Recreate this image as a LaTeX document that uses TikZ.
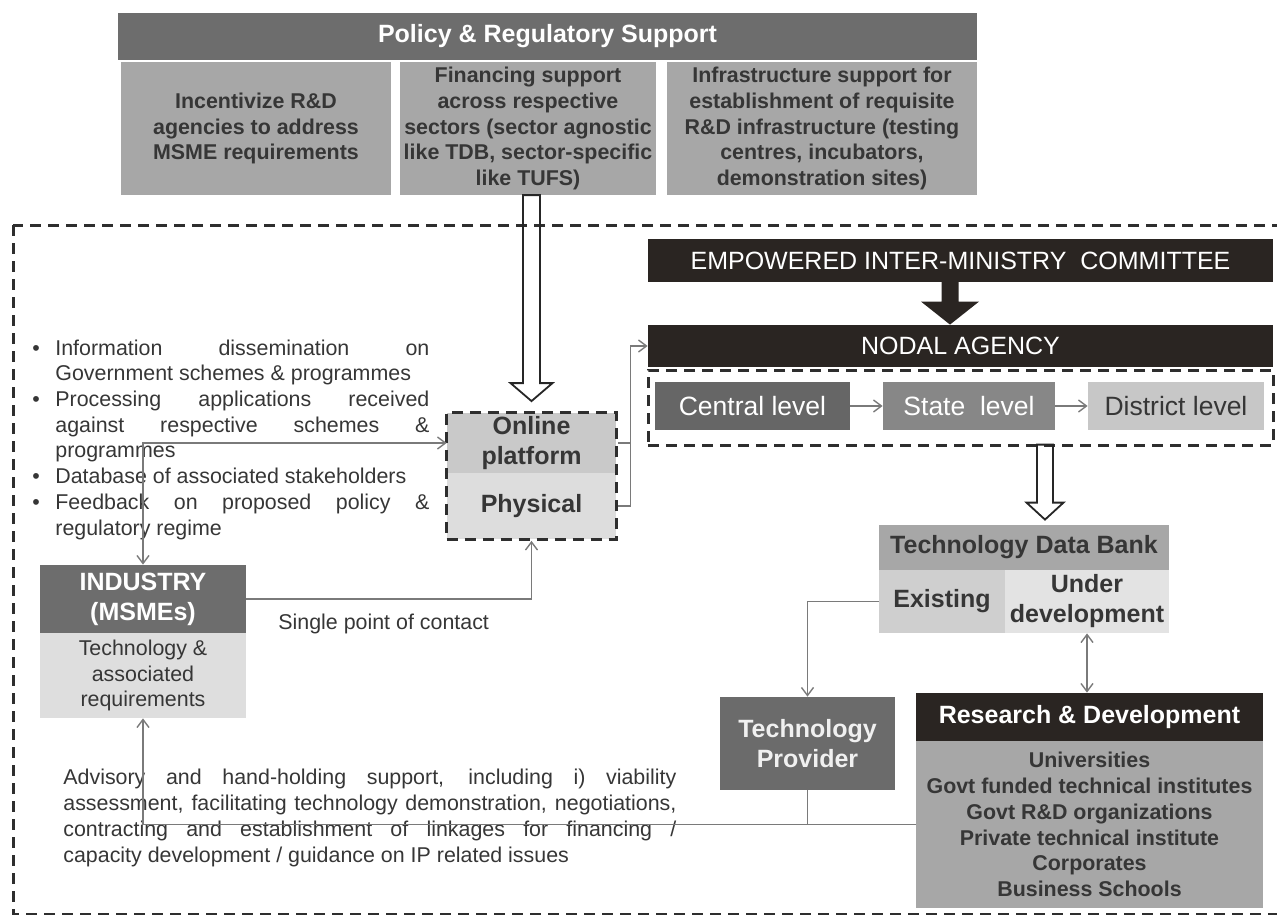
\documentclass[tikz,border=0pt]{standalone}
\usepackage{fontspec}
\setmainfont{Liberation Sans}
\usetikzlibrary{arrows.meta,calc,fit,backgrounds}

\definecolor{barblack}{HTML}{2A2522}
\definecolor{bardark}{HTML}{6D6D6D}
\definecolor{boxgrey}{HTML}{A7A7A7}
\definecolor{paleone}{HTML}{C9C9C9}
\definecolor{paletwo}{HTML}{DDDDDD}
\definecolor{inkgrey}{HTML}{363636}
\definecolor{wiregrey}{HTML}{7A7A7A}

\newcommand{\fhead}{\fontsize{25}{30}\selectfont}
\newcommand{\fbody}{\fontsize{21.4}{25.7}\selectfont}
\newcommand{\flevel}{\fontsize{26.5}{30}\selectfont}
\newcommand{\bitem}{\par\hangindent=23pt\hangafter=1\noindent\makebox[23pt][l]{\textbullet}}

\begin{document}
\begin{tikzpicture}[x=1pt,y=-1pt,thick]
    % `bar' is used for the black and dark grey title bars.
    % `support' for the grey policy boxes and the R&D list.
    % `cell' for the lighter boxes, `plain' for loose text.
    % `link' for the thin grey connectors, `frame' for dashed outlines.
    \tikzstyle{bar} = [fill=barblack,text=white,font=\fhead,inner sep=0pt,align=center]
    \tikzstyle{support} = [fill=boxgrey,text=inkgrey,font=\fbody\bfseries,inner sep=0pt,align=center,minimum height=133pt]
    \tikzstyle{cell} = [text=inkgrey,font=\fhead\bfseries,inner sep=0pt,align=center]
    \tikzstyle{plain} = [text=inkgrey,font=\fbody,inner sep=0pt]
    \tikzstyle{link} = [draw=wiregrey,line width=1.4pt,>={Straight Barb[length=8pt,width=12pt]}]
    \tikzstyle{frame} = [draw=black!82,line width=3pt,dash pattern=on 11pt off 7pt]
    \tikzstyle{hollow} = [draw=black!85,line width=1.8pt,line join=miter]
    %
    \useasboundingbox (0,0) rectangle (1277,915);

    % policy & regulatory support
    \node[bar,fill=bardark,font=\fhead\bfseries,minimum width=859pt,minimum height=47pt] (policy) at (547.5,36.5) {Policy \& Regulatory Support};
    \node[support,minimum width=270pt] (incent) at (256,128.5) {Incentivize R\&D\\agencies to address\\MSME requirements};
    \node[support,minimum width=256pt] (finance) at (528,128.5) {Financing support\\across respective\\sectors (sector agnostic\\like TDB, sector-specific\\like TUFS)};
    \node[support,minimum width=310pt] (infra) at (822,128.5) {Infrastructure support for\\establishment of requisite\\R\&D infrastructure (testing\\centres, incubators,\\demonstration sites)};

    % committee, nodal agency and its levels
    \node[bar,minimum width=625pt,minimum height=43pt] (emc) at (960.5,260.5) {EMPOWERED INTER-MINISTRY\ \ COMMITTEE};
    \node[bar,minimum width=625pt,minimum height=42pt] (nodal) at (960.5,346) {NODAL AGENCY};
    \fill[barblack] ($(nodal.north)+(-10.5,0)$) -- ++(-29,-23) -- ++(20.5,0) -- ++(0,-20) -- ++(17,0) -- ++(0,20) -- ++(20.5,0) -- cycle;
    \node[cell,font=\flevel,text=white,fill=black!60,minimum width=195pt,minimum height=48pt] (central) at (752.5,406) {Central level};
    \node[cell,font=\flevel,text=white,fill=black!47,minimum width=172pt,minimum height=48pt] (state) at (969,406) {State\ \ level};
    \node[cell,font=\flevel,fill=black!22,minimum width=176pt,minimum height=48pt] (district) at (1176,406) {District level};
    \node[frame,inner sep=0pt,minimum width=625pt,minimum height=75pt] (levels) at (960.5,407.5) {};
    \draw[link,->] (central) -- (state);
    \draw[link,->] (state) -- (district);

    % online / physical platform
    \node[cell,fill=paleone,minimum width=169pt,minimum height=60pt] (online) at (531.5,443) {Online\\platform};
    \node[cell,fill=paletwo,minimum width=169pt,minimum height=66pt] (physical) at (531.5,506) {Physical};
    \node[frame,inner sep=0pt,fit=(online)(physical)] (platform) {};

    % technology data bank
    \node[cell,fill=boxgrey,minimum width=290pt,minimum height=45pt] (tdb) at (1024,547.5) {Technology Data Bank};
    \node[cell,fill=black!19,minimum width=126pt,minimum height=63pt] (existing) at (942,601.5) {Existing};
    \node[cell,fill=black!11,minimum width=164pt,minimum height=63pt] (underdev) at (1087,601.5) {Under\\development};

    % industry
    \node[bar,fill=bardark,font=\fhead\bfseries,minimum width=206pt,minimum height=68pt] (industry) at (143,599) {INDUSTRY\\(MSMEs)};
    \node[plain,fill=black!13,align=center,minimum width=206pt,minimum height=85pt] (needs) at (143,675.5) {Technology \&\\associated\\requirements};

    % technology provider and R&D
    \node[cell,fill=black!58,text=white!94!black,minimum width=175pt,minimum height=93pt] (provider) at (807.5,743.5) {Technology\\Provider};
    \node[bar,font=\fhead\bfseries,minimum width=347pt,minimum height=48pt] (rnd) at (1089.5,717) {Research \& Development};
    \node[support,minimum width=347pt,minimum height=167pt] (institutes) at (1089.5,824.5) {Universities\\Govt funded technical institutes\\Govt R\&D organizations\\Private technical institute\\Corporates\\Business Schools};

    % loose text
    \node[plain,anchor=north west,text width=397pt,align=justify] (services) at (32,329) {\tolerance=10000\hbadness=10000
      \bitem Information dissemination on\linebreak Government schemes \& programmes
      \bitem Processing applications received\linebreak against respective schemes \&\linebreak programmes
      \bitem Database of associated stakeholders
      \bitem Feedback on proposed policy \&\linebreak regulatory regime\par};
    \node[plain,anchor=west] (contact) at (278,624) {Single point of contact};
    \node[plain,anchor=north west,text width=613pt,align=justify] (advisory) at (63,769) {\tolerance=10000\hbadness=10000
      Advisory and hand-holding support, including i) viability\linebreak
      assessment, facilitating technology demonstration, negotiations,\linebreak
      contracting and establishment of linkages for financing /\linebreak
      capacity development / guidance on IP related issues\par};

    % hollow arrows
    \draw[hollow] ($(platform.north)+(0,-10)$) -- ++(-21,-18) -- ++(12.5,0) -- ++(0,-188) -- ++(17,0) -- ++(0,188) -- ++(12.5,0) -- cycle;
    \draw[hollow] ($(tdb.north)+(21,-5)$) -- ++(-18.5,-17) -- ++(10.5,0) -- ++(0,-58) -- ++(16,0) -- ++(0,58) -- ++(10.5,0) -- cycle;

    % connectors
    \coordinate (hub) at ($(nodal.west)+(-17,0)$);
    \draw[link,<->] (online.west) -| (industry.north);
    \draw[link,->] (industry.east) -| (platform.south);
    \draw[link] (platform.east |- online) -- (hub |- online);
    \draw[link,->] (platform.east |- physical) -| (hub) -- (nodal.west);
    \draw[link,->] (existing.west) -| (provider.north);
    \draw[link,<->] (underdev.south) -- (underdev.south |- rnd.north);
    \draw[link,->] (institutes.west) -| (needs.south);
    \draw[link] (provider.south) -- (provider.south |- institutes.west);

    \begin{pgfonlayer}{background}
        % dashed outline round the whole lower part
        \draw[frame] (13,225) rectangle (1300,914);
    \end{pgfonlayer}
\end{tikzpicture}
\end{document}
